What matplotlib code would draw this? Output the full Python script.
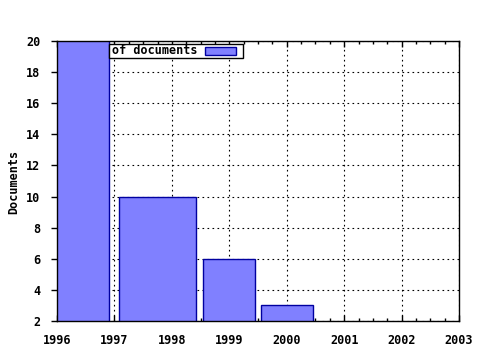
import matplotlib
matplotlib.use("Agg")
import matplotlib.pyplot as plt
from matplotlib.patches import Rectangle
from matplotlib.ticker import MultipleLocator

# data (1996 goes past the top of the axis)
years = [1996, 1998, 1999, 2000]
docs = [22, 10, 6, 3]
legend_label = "of documents"
ylabel = "Documents"

fill = "#8080ff"
edge = "#0000a0"

# gnuplot-style box widths: half way to each neighbour, scaled by 0.9
lefts, widths = [], []
for i, x in enumerate(years):
    lo = (x + years[i - 1]) / 2 if i > 0 else x - (years[1] - x) / 2
    hi = (x + years[i + 1]) / 2 if i < len(years) - 1 else x + (x - years[i - 1]) / 2
    c = (lo + hi) / 2
    w = (hi - lo) * 0.9
    lefts.append(c - w / 2)
    widths.append(w)

plt.rcParams['font.family'] = 'DejaVu Sans Mono'
plt.rcParams['font.weight'] = 'bold'

W, H = 480, 350
fig = plt.figure(figsize=(4.8, 3.5), dpi=100)
ax = fig.add_axes([57 / W, 1 - 321 / H, 402 / W, 280 / H])

ax.bar(lefts, docs, width=widths, align='edge', bottom=0,
       color=fill, edgecolor=edge, linewidth=1.0, zorder=3)

ax.set_xlim(1996, 2003)
ax.set_ylim(2, 20)
ax.xaxis.set_major_locator(MultipleLocator(1))
ax.xaxis.set_minor_locator(MultipleLocator(0.25))
ax.yaxis.set_major_locator(MultipleLocator(2))
ax.tick_params(axis='x', which='both', direction='in', top=True,
               labelsize=8.5, width=1, colors='black')
ax.tick_params(axis='x', which='major', length=4, pad=9)
ax.tick_params(axis='x', which='minor', length=2)
ax.tick_params(axis='y', which='major', direction='out', right=False,
               length=4, width=1, labelsize=8.5, pad=8)
for lab in ax.get_xticklabels() + ax.get_yticklabels():
    lab.set_fontweight('bold')

ax.grid(True, which='major', color='black', linestyle=(0, (1.5, 3)), linewidth=0.8, zorder=1)
ax.set_axisbelow(True)
for s in ax.spines.values():
    s.set_linewidth(1)
    s.set_zorder(5)

fig.text(14 / W, 1 - 182 / H, ylabel, fontsize=8.5, fontweight='bold',
         rotation=90, va='center', ha='center')

# legend box, drawn like gnuplot's key
fig.patches.append(Rectangle((109 / W, 1 - 57.5 / H), 134 / W, 13.5 / H,
                             transform=fig.transFigure, facecolor='white',
                             edgecolor='black', linewidth=1, zorder=10))
fig.text(112 / W, 1 - 51 / H, legend_label, fontsize=8.5, fontweight='bold',
         va='center', ha='left', zorder=11)
fig.patches.append(Rectangle((205 / W, 1 - 54.5 / H), 31 / W, 7 / H,
                             transform=fig.transFigure, facecolor=fill,
                             edgecolor=edge, linewidth=1, zorder=11))

fig.savefig("out.png", dpi=100)
